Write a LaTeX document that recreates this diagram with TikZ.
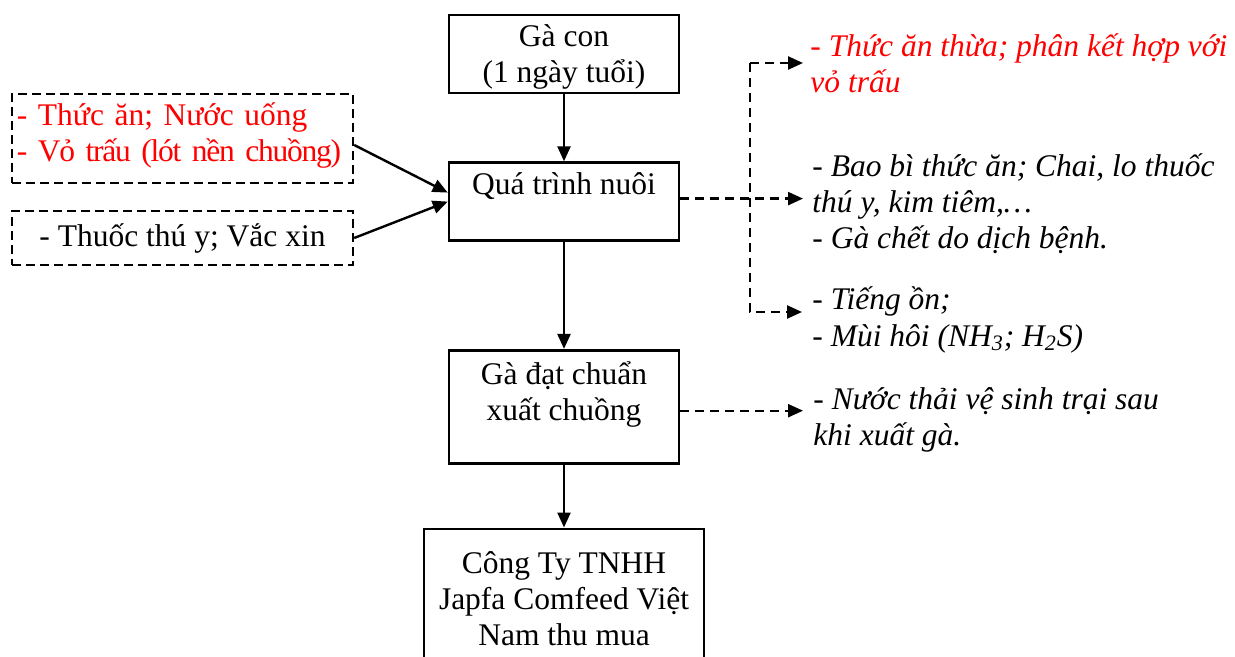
\documentclass[tikz,border=0pt]{standalone}
\usepackage{fontspec}
\setmainfont{Liberation Serif}
\usepackage{tikz}
\usetikzlibrary{arrows.meta, positioning}
\definecolor{wred}{RGB}{255,0,0}

\begin{document}
\begin{tikzpicture}[x=0.5pt, y=-0.5pt,
	font=\fontsize{15.75pt}{18pt}\selectfont,
	box/.style={draw, line width=1.3pt, align=center, inner sep=1.5pt, minimum width=115pt},
	dbox/.style={draw, dash pattern=on 4.5pt off 2.5pt, line width=1.2pt, minimum width=170.5pt, inner sep=2.5pt},
	note/.style={anchor=base west, inner sep=0pt, align=left, font=\fontsize{15.75pt}{18pt}\selectfont\itshape},
	arr/.style={-{Triangle[length=7.5pt, width=6.5pt]}, line width=1.2pt},
	darr/.style={arr, dash pattern=on 4.5pt off 3pt}]
	\useasboundingbox (0,0) rectangle (1235,657);

	\node[box, minimum height=39pt, text depth=0.5pt]        (gacon) at (564,54) {Gà con\\(1 ngày tuổi)};
	\node[box, minimum height=39pt, below=33.5pt of gacon]   (nuoi)  {Quá trình nuôi\\[-5.5pt]\strut};
	\node[box, minimum height=56.5pt, below=53.5pt of nuoi]  (xuat)  {Gà đạt chuẩn\\xuất chuồng\\[-8pt]\strut};
	\node[box, minimum width=140pt, minimum height=70pt, below=31.5pt of xuat] (cty) {Công Ty TNHH\\Japfa Comfeed Việt\\Nam thu mua};

	% dau vao
	\node[dbox, minimum height=44.5pt, text width=165.5pt, text depth=24.4pt, align=left, text=wred] (vao1) at (182.5,138.5)
		{- Thức ăn; Nước uống\\{\addfontfeature{LetterSpace=-4}- Vỏ trấu (lót nền chuồng)}};
	\node[dbox, minimum height=27pt] (vao2) at (182.5,238) {- Thuốc thú y; Vắc xin};

	% chat thai
	\node[note, text=wred] (ra1) at (810,93)  {- Thức ăn thừa; phân kết hợp với\\vỏ trấu};
	\node[note]            (ra2) at (812,249) {- Bao bì thức ăn; Chai, lo thuốc\\thú y, kim tiêm,…\\- Gà chết do dịch bệnh.};
	\node[note]            (ra3) at (812,346) {- Tiếng ồn;\\- Mùi hôi (NH\textsubscript{3}; H\textsubscript{2}S)};
	\node[note]            (ra4) at (813,445) {- Nước thải vệ sinh trại sau\\khi xuất gà.};

	\coordinate (t1)  at (803,63);
	\coordinate (t3)  at (802,312);
	\coordinate (t4)  at (803,410);
	\coordinate (bus) at (750,63);

	\draw[arr] (gacon) -- (nuoi);
	\draw[arr] (nuoi) -- (xuat);
	\draw[arr] (xuat) -- (cty);
	\draw[arr] ([yshift=-3.25pt]vao1.east) -- ([yshift=4.5pt]nuoi.west);
	\draw[arr] (vao2.east) -- (nuoi.west);

	\draw[darr] ([yshift=1.5pt]nuoi.east) -- ([yshift=1.5pt]nuoi.east -| t1);
	\draw[darr] (bus) -- (t1);
	\draw[darr] (bus) |- (t3);
	\draw[darr] ([yshift=-2pt]xuat.east) -- ([yshift=-2pt]xuat.east -| t4);
\end{tikzpicture}
\end{document}
